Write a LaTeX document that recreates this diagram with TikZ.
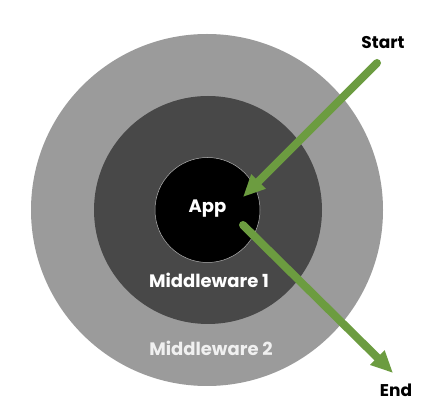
\documentclass[tikz,border=0pt]{standalone}
\usepackage{fontspec}
\setmainfont{Poppins}
\usetikzlibrary{arrows.meta}
\definecolor{ringout}{HTML}{9B9B9B}
\definecolor{ringmid}{HTML}{484848}
\definecolor{arrowgreen}{HTML}{6C9C40}
\tikzset{
  ring/.style={circle, inner sep=0pt, outer sep=0pt},
  lbl/.style={font=\fontsize{18}{20}\selectfont\bfseries, anchor=base, inner sep=0pt},
  side/.style={font=\fontsize{17}{19}\selectfont\bfseries, anchor=base, inner sep=0pt},
  flow/.style={arrowgreen, line width=8pt, line cap=round, -{Triangle[length=22pt,width=19pt]}},
}
\begin{document}
\begin{tikzpicture}[x=1pt,y=1pt]
\useasboundingbox (0,0) rectangle (442,420);
\fill[white] (0,0) rectangle (442,420);
\node[ring, fill=ringout, minimum size=352pt] (mw2) at (207,210) {};
\node[ring, fill=ringmid, minimum size=228pt] (mw1) at (208,210) {};
\node[ring, fill=black, draw=gray!60, line width=0.5pt, minimum size=105pt] (app) at (207.5,210) {};
\node[lbl, white] (applbl) at (207.5,207) {App};
\node[lbl, white] (mw1lbl) at (209,132) {Middleware 1};
\node[lbl, white!94!black] (mw2lbl) at (211,64) {Middleware 2};
\node[side, black] (start) at (383,371) {Start};
\node[side, black] (end) at (396,23) {End};
\coordinate (s1) at (377,357);
\coordinate (s2) at (243,223);
\coordinate (e1) at (243,195);
\coordinate (e2) at (393,47);
\draw[flow] (s1) -- (s2);
\draw[flow] (e1) -- (e2);
\end{tikzpicture}
\end{document}
